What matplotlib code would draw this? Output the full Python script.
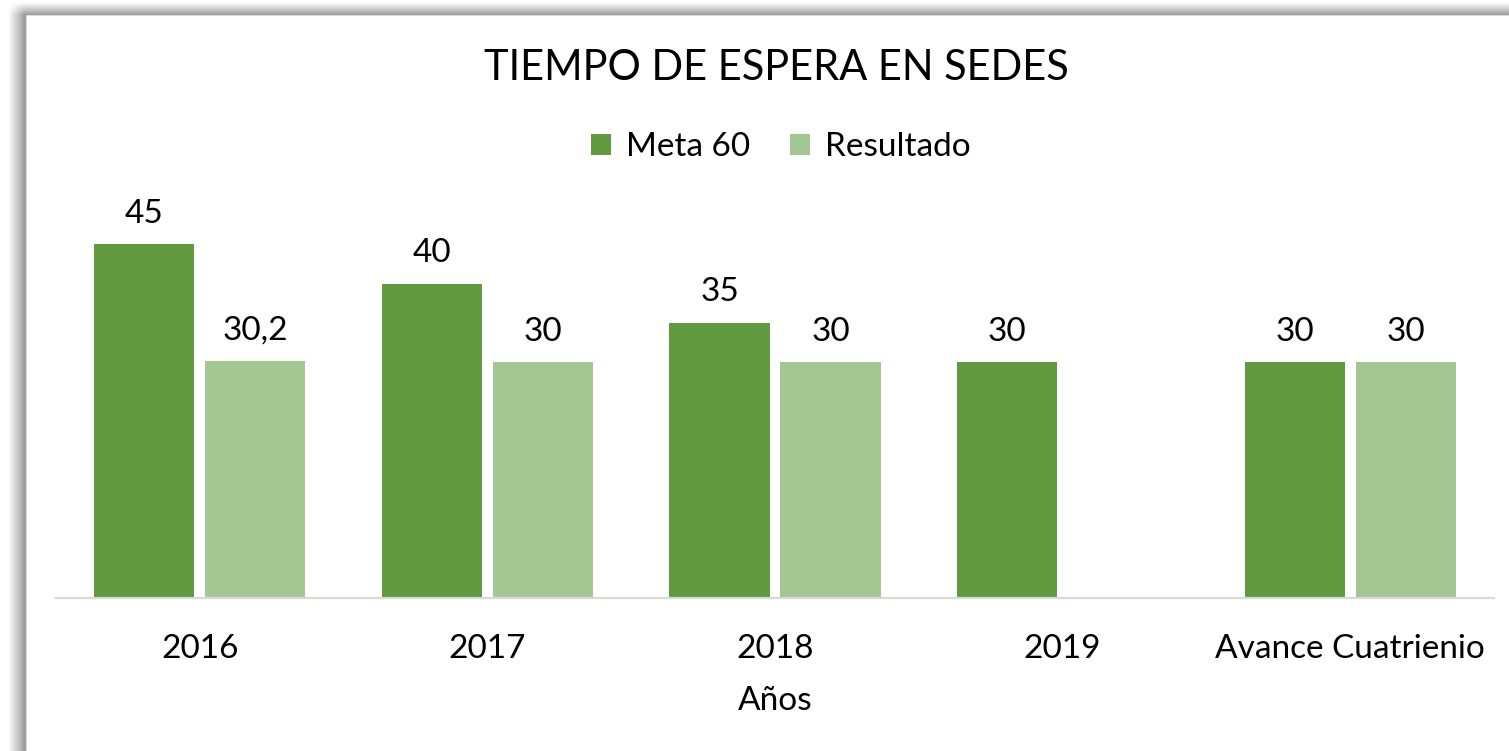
import matplotlib
matplotlib.use("Agg")
import matplotlib.pyplot as plt
import numpy as np

categorias = ["2016", "2017", "2018", "2019", "Avance Cuatrienio"]
meta = [45, 40, 35, 30, 30]
resultado = [30.2, 30, 30, np.nan, 30]
etiquetas_meta = ["45", "40", "35", "30", "30"]
etiquetas_resultado = ["30,2", "30", "30", "", "30"]

verde_oscuro = "#629B3F"
verde_claro = "#A4C692"

plt.rcParams['font.family'] = ['Lato', 'DejaVu Sans']

W, H = 1509, 751
fig = plt.figure(figsize=(W/100, H/100), dpi=100)

# fondo con sombra del marco
xs = np.arange(W)[None, :]
ys = np.arange(H)[:, None]
s_izq = np.clip((xs - 8) / 16.0, 0, 1) * (xs < 26) * np.clip((ys - 3) / 12.0, 0, 1)
s_sup = np.clip((ys - 2) / 12.0, 0, 1) * (ys < 15) * np.clip((xs - 8) / 16.0, 0, 1)
sombra = np.maximum(s_izq, s_sup)
fondo = 1.0 - sombra * 0.38
fondo[15:, 26] = np.where(fondo[15:, 26] > 0.99, 0.85, fondo[15:, 26])
fondo[15, 26:] = 0.85
bg = fig.add_axes([0, 0, 1, 1], zorder=0)
bg.imshow(fondo, cmap="gray", vmin=0, vmax=1, aspect="auto", interpolation="nearest")
bg.axis("off")

ax = fig.add_axes([56/W, (H-598)/H, 1438/W, 393/H], zorder=1)
ax.patch.set_alpha(0)

x = np.arange(len(categorias))
ancho = 0.348
desp = 0.193
b1 = ax.bar(x - desp, meta, ancho, color=verde_oscuro, label="Meta 60")
b2 = ax.bar(x + desp, resultado, ancho, color=verde_claro, label="Resultado")

for i in range(len(categorias)):
    ax.annotate(etiquetas_meta[i], (x[i] - desp, meta[i]), xytext=(0, 22),
                textcoords="offset points", ha="center", va="center", fontsize=24)
    if etiquetas_resultado[i] != "":
        ax.annotate(etiquetas_resultado[i], (x[i] + desp, resultado[i]), xytext=(0, 22),
                    textcoords="offset points", ha="center", va="center", fontsize=24)

ax.set_xlim(-0.5, len(categorias) - 0.5)
ax.set_ylim(0, 50)
ax.set_yticks([])
ax.set_xticks(x)
ax.set_xticklabels(categorias, fontsize=24)
ax.tick_params(axis="x", length=0, pad=26)
for s in ["top", "right", "left"]:
    ax.spines[s].set_visible(False)
ax.spines["bottom"].set_color("#D9D9D9")
ax.spines["bottom"].set_linewidth(1.6)
ax.set_xlabel("Años", fontsize=24, labelpad=16)

fig.text(776/W, 1 - 68/H, "TIEMPO DE ESPERA EN SEDES", ha="center", va="center", fontsize=30)
fig.legend(handles=[b1, b2], loc="center", bbox_to_anchor=(781/W, 1 - 147/H), ncol=2,
           frameon=False, fontsize=24, handlelength=0.6, handleheight=0.6,
           handletextpad=0.45, columnspacing=1.2)

fig.savefig("out.png", dpi=100)
